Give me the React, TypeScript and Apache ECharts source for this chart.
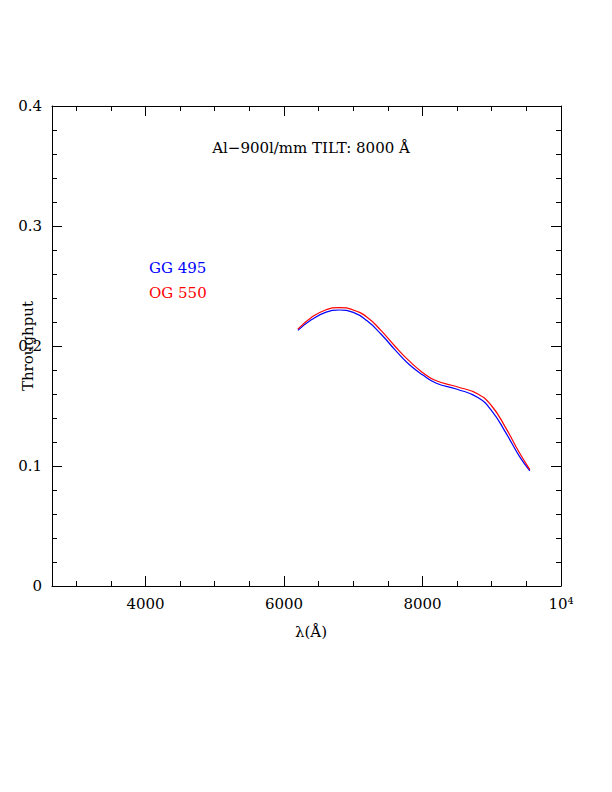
import React, { useEffect, useRef } from "react";
import * as echarts from "echarts";

const blueX = [6200, 6400, 6600, 6800, 7000, 7200, 7400, 7600, 7800, 8000, 8200, 8500, 8800, 9000, 9200, 9400, 9550];
const blueY = [0.213, 0.222, 0.228, 0.230, 0.228, 0.221, 0.210, 0.197, 0.185, 0.176, 0.169, 0.164, 0.157, 0.146, 0.128, 0.108, 0.096];
const redX = [6200, 6400, 6600, 6800, 7000, 7200, 7400, 7600, 7800, 8000, 8200, 8500, 8800, 9000, 9200, 9400, 9550];
const redY = [0.214, 0.224, 0.230, 0.232, 0.230, 0.224, 0.213, 0.200, 0.188, 0.178, 0.171, 0.166, 0.160, 0.150, 0.132, 0.111, 0.097];
const xMajor = [4000, 6000, 8000, 10000];
const xMinor = [3000, 3500, 4000, 4500, 5000, 5500, 6000, 6500, 7000, 7500, 8000, 8500, 9000, 9500];
const xLabels: Record<number, string> = { 4000: "4000", 6000: "6000", 8000: "8000", 10000: "10⁴" };

const FONT = "DejaVu Serif";

export default function App() {
  const ref = useRef<HTMLDivElement>(null);
  useEffect(() => {
    const chart = echarts.init(ref.current!, null, { renderer: "svg" });
    const axisLine = { show: true, lineStyle: { color: "#000", width: 1 } };
    const tickStyle = { color: "#000" };
    const xBase = { type: "value", min: 2650, max: 10000, splitLine: { show: false } };
    const yBase = {
      type: "value", min: 0, max: 0.4, interval: 0.1,
      axisLine, splitLine: { show: false },
      axisTick: { inside: true, length: 10, lineStyle: tickStyle },
      minorTick: { show: true, splitNumber: 5, length: 5, lineStyle: tickStyle },
    };
    const xAxes: any[] = [];
    (["bottom", "top"] as const).forEach((pos, k) => {
      xAxes.push({
        ...xBase, position: pos, axisLine,
        axisTick: { inside: true, length: 10, lineStyle: tickStyle, customValues: xMajor },
        axisLabel: k === 0
          ? { fontFamily: FONT, fontSize: 15, color: "#000", margin: 10, customValues: xMajor, formatter: (v: number) => xLabels[v] || "" }
          : { show: false },
      });
      xAxes.push({
        ...xBase, position: pos, axisLine: { show: false },
        axisTick: { inside: true, length: 5, lineStyle: tickStyle, customValues: xMinor },
        axisLabel: { show: false },
      });
    });
    chart.setOption({
      animation: false,
      grid: { left: 52, right: 51, top: 106, bottom: 206 },
      xAxis: xAxes,
      yAxis: [
        { ...yBase, position: "left",
          axisLabel: { fontFamily: FONT, fontSize: 15, color: "#000", margin: 10,
            formatter: (v: number) => (v === 0 ? "0" : v.toFixed(1)) } },
        { ...yBase, position: "right", axisLabel: { show: false } },
      ],
      graphic: [
        { type: "text", x: 311, y: 148, style: { text: "Al−900l/mm TILT: 8000 Å", font: `15px "${FONT}"`, fill: "#000", align: "center", verticalAlign: "middle" } },
        { type: "text", x: 149, y: 268, style: { text: "GG 495", font: `15px "${FONT}"`, fill: "#0000ff", verticalAlign: "middle" } },
        { type: "text", x: 149, y: 293, style: { text: "OG 550", font: `15px "${FONT}"`, fill: "#ff0000", verticalAlign: "middle" } },
        { type: "text", x: 311, y: 632, style: { text: "λ(Å)", font: `15px "${FONT}"`, fill: "#000", align: "center", verticalAlign: "middle" } },
        { type: "text", x: 28, y: 346, rotation: Math.PI / 2, style: { text: "Throughput", font: `15px "${FONT}"`, fill: "#000", align: "center", verticalAlign: "middle" } },
      ],
      series: [
        { type: "line", xAxisIndex: 0, data: blueX.map((x, i) => [x, blueY[i]]), smooth: true, symbol: "none", lineStyle: { color: "#0000ff", width: 1.2 } },
        { type: "line", xAxisIndex: 0, data: redX.map((x, i) => [x, redY[i]]), smooth: true, symbol: "none", lineStyle: { color: "#ff0000", width: 1.2 } },
      ],
    });
    return () => chart.dispose();
  }, []);
  return <div ref={ref} style={{ position: "absolute", left: 0, top: 0, width: 612, height: 792 }} />;
}
